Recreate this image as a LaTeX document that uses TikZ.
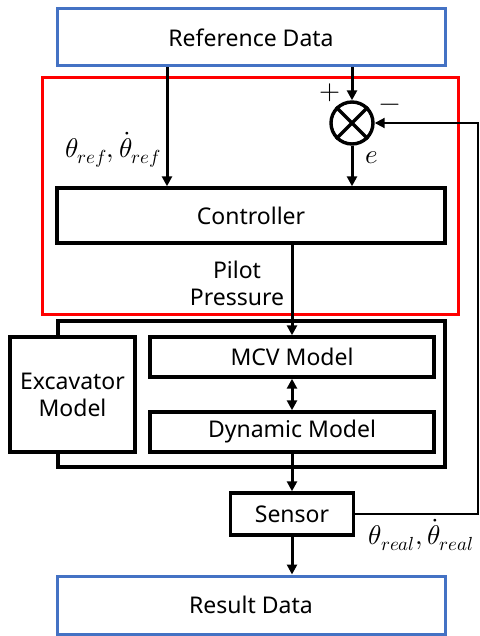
\documentclass[tikz,border=0pt]{standalone}
\usepackage{amsmath}
\usepackage{fontspec}
\usepackage{unicode-math}
\setmainfont{Noto Sans}
\setmathfont{Latin Modern Math}
\usetikzlibrary{arrows.meta}
\definecolor{dataBlue}{RGB}{68,114,196}

\begin{document}
\begin{tikzpicture}[x=1pt, y=-1pt, line join=miter, >={Triangle[length=10pt,width=10pt]},
  font=\fontsize{23}{27}\selectfont,
  block/.style={draw, line width=3.4pt, inner sep=0pt, align=center},
  datablock/.style={draw=dataBlue, line width=3pt, inner sep=0pt},
  flow/.style={->, line width=3pt},
  feedback/.style={->, line width=2pt},
  mathlabel/.style={font=\fontsize{27}{30}\selectfont}]

  \useasboundingbox (0,0) rectangle (479,636);

  % Data blocks
  \node[datablock, minimum width=388, minimum height=57] (ref) at (251,37.5) {Reference Data};
  \node[datablock, minimum width=388, minimum height=58] (res) at (251,605) {Result Data};

  % Controller part (red frame)
  \draw[red, line width=3pt] (42,78) rectangle (458,314);
  \node[circle, draw, line width=3.4pt, minimum size=42, inner sep=0pt] (sum) at (352,123) {};
  \draw[line width=3.4pt] (sum.north west) -- (sum.south east)
                          (sum.north east) -- (sum.south west);
  \node[block, minimum width=388, minimum height=55] (ctrl) at (251,215.5) {Controller};

  % Plant
  \node[block, minimum width=387, minimum height=146] (plant) at (251.5,394) {};
  \node[block, fill=white, minimum width=125, minimum height=115] (exc) at (72.5,394.5) {Excavator\\Model};
  \node[block, minimum width=284, minimum height=40] (mcv) at (292,357) {MCV Model};
  \node[block, minimum width=284, minimum height=40] (dyn) at (292,432) {Dynamic Model};
  \node[block, minimum width=123, minimum height=42] (sensor) at (292,514) {Sensor};

  % Key points
  \coordinate (tap) at (167,0);
  \coordinate (fbx) at (478,0);

  % Signal flow
  \draw[flow] (ref.south -| tap) -- (ctrl.north -| tap);
  \draw[flow] (ref.south -| sum) -- (sum.north);
  \draw[flow] (sum.south) -- (ctrl.north -| sum);
  \draw[flow] (ctrl.south -| mcv) -- (mcv.north);
  \draw[<->, line width=3pt] (mcv.south) -- (dyn.north);
  \draw[flow] (dyn.south) -- (sensor.north);
  \draw[flow] (sensor.south) -- (res.north -| sensor);

  % Feedback
  \draw[feedback] (sensor.east) -| (fbx |- sum) -- (sum.east);

  % Labels
  \node[mathlabel] (plus)  at (330,93)  {$+$};
  \node[mathlabel] (minus) at (390,108) {$-$};
  \node[mathlabel] (err)   at (372,158) {$e$};
  \node[mathlabel] (thref) at (113,150) {$\theta_{ref},\dot{\theta}_{ref}$};
  \node[align=center] (pilot) at (237,283.5) {Pilot\\Pressure};
  \node[mathlabel] (threal) at (421,535) {$\theta_{real},\dot{\theta}_{real}$};

\end{tikzpicture}
\end{document}
